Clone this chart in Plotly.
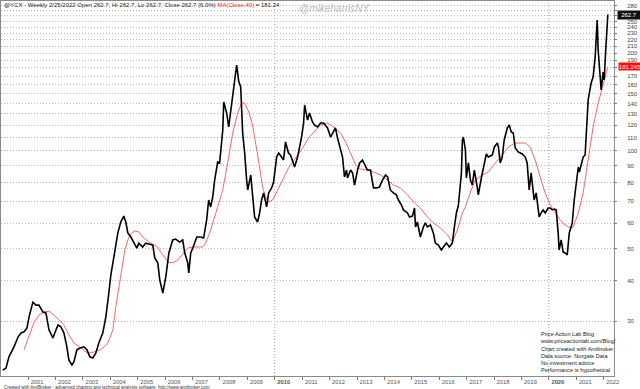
import numpy as np
import plotly.graph_objects as go

# ---------------- data ----------------
dates = [
"2000-01-28","2000-03-12","2000-04-21","2000-06-27","2000-08-20","2000-09-29","2000-11-08","2000-12-17",
"2001-01-14","2001-03-06","2001-04-15","2001-05-25","2001-07-17","2001-08-27","2001-10-06","2001-11-28",
"2002-01-08","2002-02-04","2002-03-13","2002-04-23","2002-06-02","2002-06-28","2002-08-08","2002-09-04","2002-10-13","2002-11-23",
"2003-01-15","2003-02-24","2003-04-04","2003-05-13","2003-06-22","2003-08-02","2003-09-24","2003-11-03","2003-12-13",
"2004-01-09","2004-02-18","2004-04-11","2004-05-20","2004-06-29","2004-07-26","2004-08-22","2004-10-01","2004-11-10","2004-12-20",
"2005-01-16","2005-03-08","2005-04-18","2005-05-27","2005-07-20","2005-08-16","2005-09-25","2005-10-22","2005-12-01",
"2006-01-10","2006-02-20","2006-04-12","2006-05-22","2006-07-14","2006-08-23","2006-09-19","2006-10-29","2006-11-12","2006-12-08",
"2007-01-05","2007-02-27","2007-04-20","2007-05-29","2007-07-08","2007-08-04","2007-08-31","2007-09-27","2007-10-23","2007-12-02","2007-12-28",
"2008-02-08","2008-02-21","2008-03-31","2008-04-27","2008-05-23","2008-06-19","2008-07-15","2008-08-11","2008-09-08","2008-10-04","2008-10-30","2008-11-26","2008-12-22",
"2009-01-06","2009-02-15","2009-03-11","2009-04-07","2009-05-17","2009-06-13","2009-07-09","2009-08-05","2009-09-15","2009-10-11","2009-11-20","2009-12-16",
"2010-01-26","2010-02-22","2010-04-01","2010-04-28","2010-05-24","2010-07-03","2010-07-30","2010-08-26","2010-09-22","2010-11-01","2010-11-28","2010-12-24",
"2011-01-20","2011-02-03","2011-03-13","2011-04-09","2011-05-18","2011-06-14","2011-07-24","2011-09-03","2011-10-12","2011-12-05",
"2012-01-14","2012-02-24","2012-03-20","2012-04-16","2012-05-26","2012-06-22","2012-07-18","2012-08-14","2012-08-27","2012-10-07","2012-11-03","2012-11-29",
"2013-01-08","2013-02-05","2013-03-14","2013-04-23","2013-05-20","2013-06-29","2013-08-08","2013-09-17","2013-10-27","2013-12-06",
"2014-01-16","2014-02-12","2014-03-21","2014-05-01","2014-06-10","2014-07-06","2014-08-16","2014-09-12","2014-11-04","2014-12-01",
"2015-01-10","2015-02-06","2015-02-19","2015-03-16","2015-04-25","2015-06-04","2015-06-30","2015-07-27","2015-09-06","2015-10-15","2015-11-11","2015-12-21",
"2016-01-30","2016-02-26","2016-04-06","2016-05-15","2016-06-24","2016-07-21","2016-08-17","2016-09-13","2016-09-26","2016-10-23","2016-11-05","2016-11-18","2016-12-15","2016-12-28",
"2017-01-24","2017-02-20","2017-03-17","2017-04-13","2017-05-22","2017-06-05","2017-07-15","2017-08-11","2017-09-20","2017-10-17","2017-12-09",
"2018-01-05","2018-02-14","2018-02-28","2018-03-24","2018-04-20","2018-05-16","2018-06-26","2018-07-22","2018-08-18","2018-09-14","2018-10-10","2018-11-19","2018-12-16",
"2019-01-12","2019-02-21","2019-03-18","2019-04-01","2019-04-14","2019-05-10","2019-06-06","2019-06-19","2019-07-16","2019-08-12","2019-08-25","2019-09-21","2019-10-17","2019-11-13","2019-12-23",
"2020-01-19","2020-02-15","2020-03-12","2020-04-08","2020-05-04","2020-05-17","2020-06-13","2020-07-10","2020-08-06","2020-09-02","2020-09-29","2020-10-25","2020-11-08","2020-12-04",
"2021-01-01","2021-01-27","2021-02-10","2021-03-19","2021-04-02","2021-04-28","2021-05-25","2021-06-08","2021-07-17","2021-08-13","2021-09-09","2021-10-06","2021-10-19","2021-11-15","2021-11-28","2021-12-24",
"2022-01-07","2022-01-28","2022-02-11","2022-02-18","2022-02-25",
]
close = [
21.2,21.5,23.3,25.0,26.8,27.6,27.8,28.6,
30.9,34.3,33.6,33.6,32.0,31.8,28.2,26.6,
28.2,29.2,28.8,27.6,25.0,22.8,22.0,22.5,24.5,24.8,
25.0,24.5,23.3,23.1,23.9,25.7,27.6,30.9,36.6,
41.6,47.2,56.0,60.5,63.1,60.5,56.0,54.4,52.5,50.3,
52.1,50.7,52.1,51.8,51.4,46.9,45.3,40.1,36.6,
41.0,48.6,53.3,53.6,52.5,53.3,48.6,45.3,42.2,48.6,
50.3,54.4,54.4,54.0,61.4,70.7,67.3,72.2,81.4,92.5,91.9,
116.0,141.4,130.9,118.5,130.9,146.5,165.3,183.8,163.5,157.3,113.6,98.6,81.4,
75.9,84.4,74.3,62.7,60.5,64.5,70.7,74.3,67.3,74.3,77.0,80.3,
95.8,98.6,95.8,93.8,106.6,98.6,97.2,93.8,89.3,95.8,102.9,110.4,
121.9,138.5,124.5,130.9,122.8,120.2,118.5,121.9,121.9,117.7,
110.4,114.4,117.7,109.6,100.7,95.8,83.2,87.4,82.6,87.4,85.6,78.6,
87.4,91.9,93.8,89.3,87.4,87.4,77.0,77.0,77.5,81.4,
84.4,83.2,75.9,74.3,73.3,70.7,68.2,65.9,64.5,62.7,
63.1,66.8,58.4,60.5,54.4,58.4,60.1,58.4,59.2,56.0,52.1,51.4,
49.6,50.7,52.1,50.7,52.1,58.4,64.5,68.2,74.3,85.6,108.1,110.4,100.7,82.6,
91.9,81.4,78.6,87.4,77.5,73.3,82.6,89.3,97.9,95.8,97.2,
102.9,105.8,102.9,91.9,95.8,108.1,117.7,120.2,114.4,113.6,102.1,99.3,98.6,
97.9,95.8,91.9,83.2,75.9,85.6,77.0,70.7,74.3,67.3,62.7,64.5,65.9,64.5,66.8,
66.8,65.9,66.3,65.9,56.0,49.6,53.3,48.9,48.6,47.9,56.0,59.2,60.1,70.7,
81.4,89.3,86.2,91.9,95.8,97.2,121.9,143.5,161.8,168.8,194.5,252.7,204.4,159.5,154.0,174.9,
165.3,204.4,240.0,247.8,262.7,
]

ma_dates = [
"2000-11-08","2001-01-14","2001-03-19","2001-05-25","2001-07-30","2001-10-06","2001-12-12",
"2002-02-17","2002-04-23","2002-06-28","2002-09-04","2002-12-06",
"2003-03-08","2003-05-26","2003-08-28","2003-11-30",
"2004-02-05","2004-03-15","2004-05-20","2004-07-13","2004-09-05","2004-11-10",
"2005-01-16","2005-03-22","2005-06-24","2005-09-25","2005-11-05",
"2006-02-07","2006-04-12","2006-06-18","2006-08-23","2006-10-29",
"2007-01-18","2007-05-16","2007-06-25","2007-08-31","2007-12-02",
"2008-02-08","2008-04-14","2008-06-19","2008-08-25","2008-10-17","2008-11-26",
"2009-01-19","2009-03-11","2009-05-04","2009-06-13","2009-07-23","2009-09-02","2009-10-11","2009-12-04",
"2010-02-09","2010-04-15","2010-07-03","2010-10-05",
"2011-01-07","2011-03-26","2011-06-28","2011-09-03","2011-12-05",
"2012-02-24","2012-05-26","2012-08-01","2012-10-07","2012-12-12",
"2013-02-18","2013-05-20","2013-08-08","2013-11-10",
"2014-02-12","2014-05-01","2014-08-02","2014-11-04",
"2015-01-23","2015-04-25","2015-07-27","2015-10-15",
"2016-01-17","2016-04-19","2016-06-24","2016-08-30","2016-11-05","2016-12-15",
"2017-02-20","2017-04-26","2017-07-28","2017-10-17",
"2018-01-18","2018-04-20","2018-07-09","2018-10-10","2018-12-16",
"2019-02-21","2019-04-27","2019-07-03","2019-09-08","2019-11-13",
"2020-01-19","2020-03-25","2020-05-31","2020-08-06","2020-10-12","2020-11-21",
"2021-01-27","2021-04-02","2021-06-08","2021-08-13","2021-10-19","2021-12-25",
"2022-02-25",
]
ma_vals = [
24.5,26.8,29.6,31.3,32.0,32.2,31.3,
30.2,29.2,27.2,25.7,24.8,
23.9,24.1,24.5,25.7,
28.2,33.2,41.0,49.6,54.4,56.8,
56.4,54.0,52.1,50.7,48.8,
45.6,45.3,46.2,48.2,50.3,
50.7,50.7,52.1,57.2,67.3,
75.9,91.9,113.6,130.9,140.4,140.4,
131.8,120.2,102.9,89.3,77.5,72.2,69.7,70.7,
75.9,81.4,88.7,95.2,
102.1,109.6,116.0,120.2,121.9,
118.5,113.6,106.6,98.6,90.6,
88.0,87.4,86.2,84.4,
81.4,78.6,77.0,73.3,
69.7,66.8,62.7,60.1,
58.0,55.2,52.5,57.2,64.5,67.3,
74.8,81.4,84.4,86.2,
91.9,97.2,102.9,105.8,105.8,
105.8,102.9,93.8,83.2,74.3,
68.2,64.5,61.4,59.2,58.0,58.4,
64.5,74.3,93.8,118.5,140.4,159.5,
181.245,
]

years = list(range(2001, 2023))
y_ticks = [30, 40, 50, 60, 70, 80, 90, 100, 110, 120, 130, 140, 150, 160, 170, 180,
           190, 200, 210, 220, 230, 240, 250, 260, 270, 280]
hidden_ticks = [180, 260, 270]   # covered by the last-value boxes in the reference

title_txt = ("@YCX - Weekly 2/25/2022 Open 262.7, Hi 262.7, Lo 262.7, Close 262.7 (6.0%) "
             "<span style='color:#ff2020'>MA(Close,40)</span> = 181.24")
info_lines = ["Price Action Lab Blog", "www.priceactionlab.com/Blog/", "Chart created with Amibroker",
              "Data source: Norgate Data", "No investment advice", "Performance is hypothetical"]
credit_txt = "Created with AmiBroker - advanced charting and technical analysis software. http://www.amibroker.com"

# ---------------- figure ----------------
W, H = 640, 389
ML, MR, MT, MB = 1, 26, 1, 13
PW, PH = W - ML - MR, H - MT - MB

def px(x):
    return (x - ML) / PW

def py(y):
    return (H - MB - y) / PH

FONT = "Liberation Sans, Arial, sans-serif"
DOTS = "1px,2px"

fig = go.Figure()
fig.add_trace(go.Scatter(x=ma_dates, y=ma_vals, mode="lines",
                         line=dict(color="#ff6464", width=1), hoverinfo="skip"))
fig.add_trace(go.Scatter(x=dates, y=close, mode="lines",
                         line=dict(color="#000000", width=1.6), hoverinfo="skip"))

for yr in (2010, 2020):
    fig.add_shape(type="line", xref="x", yref="paper", x0=f"{yr}-01-01", x1=f"{yr}-01-01",
                  y0=0, y1=1, line=dict(color="#a0a0a0", width=1, dash=DOTS), layer="below")

fig.update_layout(
    width=W, height=H,
    margin=dict(l=ML, r=MR, t=MT, b=MB, pad=0),
    paper_bgcolor="white", plot_bgcolor="white",
    showlegend=False,
    font=dict(family=FONT, size=6, color="#333333"),
    xaxis=dict(
        type="date", range=["2000-01-06", "2022-05-18"],
        tickvals=[f"{y}-01-01" for y in years],
        ticktext=[(f"<b>{y}</b>" if y in (2010, 2020) else str(y)) for y in years],
        ticks="outside", ticklen=3, tickcolor="#777777", tickwidth=1,
        tickfont=dict(size=5.8, color="#555555", family=FONT),
        ticklabelshift=9, ticklabelstandoff=-3,
        showgrid=False, zeroline=False,
        showline=True, linecolor="#8a8a8a", linewidth=1, mirror=True,
    ),
    yaxis=dict(
        type="log", side="right",
        range=[np.log10(20.34), np.log10(289.1)],
        tickvals=y_ticks,
        ticktext=[("" if v in hidden_ticks else str(v)) for v in y_ticks],
        ticks="outside", ticklen=2, tickcolor="#777777",
        tickfont=dict(size=6, color="#444444", family=FONT),
        ticklabelstandoff=9,
        showgrid=True, gridcolor="#b8b8b8", griddash=DOTS, gridwidth=1,
        zeroline=False,
        showline=True, linecolor="#8a8a8a", linewidth=1, mirror=True,
    ),
)

ann = []
ann.append(dict(xref="paper", yref="paper", x=px(2), y=py(5), xanchor="left", yanchor="middle",
                text=title_txt, showarrow=False, font=dict(size=6, color="#222222", family=FONT)))
ann.append(dict(xref="paper", yref="paper", x=px(297), y=py(8), xanchor="left", yanchor="middle",
                text="<i>@mikeharrisNY</i>", showarrow=False,
                font=dict(size=10, color="#bdbdbd", family=FONT)))
ann.append(dict(xref="paper", yref="paper", x=px(538), y=py(329), xanchor="left", yanchor="top",
                text="<br>".join(info_lines), align="left", showarrow=False,
                font=dict(size=5.6, color="#222222", family=FONT)))
ann.append(dict(xref="paper", yref="paper", x=px(2), y=py(387), xanchor="left", yanchor="middle",
                text=credit_txt, showarrow=False, font=dict(size=4.5, color="#333333", family=FONT)))
ann.append(dict(xref="paper", yref="y", x=1, y=np.log10(close[-1]), xanchor="left", yanchor="middle",
                xshift=3, text=f"{close[-1]:.1f}", showarrow=False, bgcolor="#111111",
                width=22, height=8, borderpad=0,
                font=dict(size=6, color="white", family=FONT)))
ann.append(dict(xref="paper", yref="y", x=1, y=np.log10(ma_vals[-1]), xanchor="left", yanchor="middle",
                xshift=4, text=f"{ma_vals[-1]:.3f}", showarrow=False, bgcolor="#ff1010",
                width=22, height=7, borderpad=0,
                font=dict(size=6, color="#ffe8e8", family=FONT)))
fig.update_layout(annotations=ann)

# small pointer on the last-close box
fig.add_shape(type="path", xref="paper", xsizemode="pixel", xanchor=1,
              yref="y", ysizemode="pixel", yanchor=np.log10(close[-1]),
              path="M 0,0 L 4,4 L 4,-4 Z", fillcolor="#111111", line=dict(width=0))

fig.write_html("out.html")
